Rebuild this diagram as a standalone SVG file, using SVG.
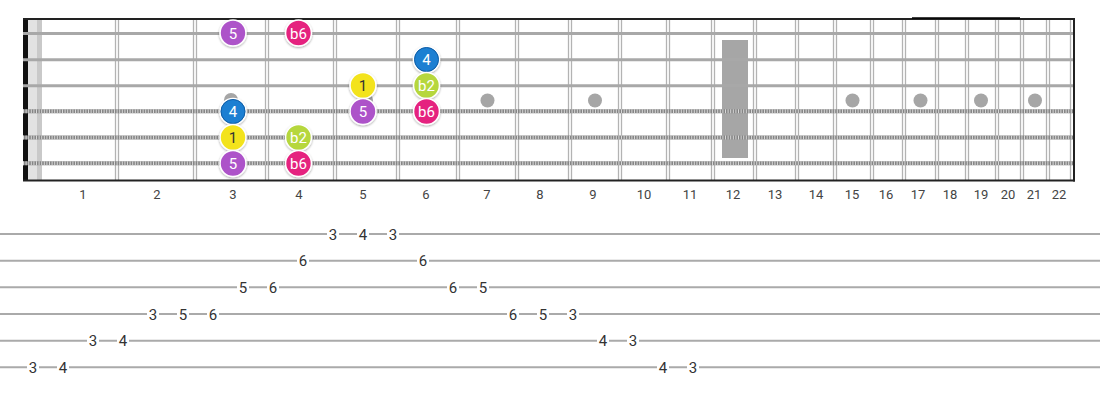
<svg xmlns="http://www.w3.org/2000/svg" width="1100" height="400" viewBox="0 0 1100 400">
<defs>
<style>
.fw{stroke:#b3b3b3;stroke-width:1.3}
.plain{stroke:#a8a8a8;stroke-width:3}
.wbase{stroke:#858585;stroke-width:4}
.wtex{stroke:#d8d8d8;stroke-width:4;stroke-dasharray:1 1.6}
.inlay{fill:#a6a6a6}
.fnum{font-family:Roboto,"Liberation Sans",sans-serif;font-size:13px;fill:#444;text-anchor:middle}
.tabl{stroke:#aaaaaa;stroke-width:2}
.tn{font-family:Roboto,"Liberation Sans",sans-serif;font-size:15px;fill:#333;text-anchor:middle}
.tbg{fill:#fff}
.note circle{stroke:#fff;stroke-width:1.6;filter:url(#sh)}
.note text{font-family:Roboto,"Liberation Sans",sans-serif;font-size:15px;text-anchor:middle;fill:#fff}
.p5 circle{fill:#ad52c9}
.b6 circle{fill:#e5227f}
.r1 circle{fill:#f3e31e}
.r1 text{fill:#333}
.b2 circle{fill:#b6d73d}
.f4 circle{fill:#1d7fd2}
</style>
<filter id="sh" x="-30%" y="-30%" width="160%" height="170%">
<feDropShadow dx="0" dy="1" stdDeviation="1" flood-color="#000" flood-opacity="0.35"/>
</filter>
</defs>
<rect width="1100" height="400" fill="#fff"/>
<g id="fretboard">
<rect x="28" y="19" width="10" height="162" fill="#e2e2e2"/>
<rect x="37" y="19" width="5" height="162" fill="#c9c9c9"/>
<rect x="23" y="19" width="5" height="162" fill="#111"/>
<g id="frets">
<line class="fw" x1="115.5" y1="19" x2="115.5" y2="181"/><line class="fw" x1="118.5" y1="19" x2="118.5" y2="181"/>
<line class="fw" x1="193.5" y1="19" x2="193.5" y2="181"/><line class="fw" x1="196.5" y1="19" x2="196.5" y2="181"/>
<line class="fw" x1="265.5" y1="19" x2="265.5" y2="181"/><line class="fw" x1="268.5" y1="19" x2="268.5" y2="181"/>
<line class="fw" x1="333.5" y1="19" x2="333.5" y2="181"/><line class="fw" x1="336.5" y1="19" x2="336.5" y2="181"/>
<line class="fw" x1="396.5" y1="19" x2="396.5" y2="181"/><line class="fw" x1="399.5" y1="19" x2="399.5" y2="181"/>
<line class="fw" x1="456.5" y1="19" x2="456.5" y2="181"/><line class="fw" x1="459.5" y1="19" x2="459.5" y2="181"/>
<line class="fw" x1="515.5" y1="19" x2="515.5" y2="181"/><line class="fw" x1="518.5" y1="19" x2="518.5" y2="181"/>
<line class="fw" x1="568.5" y1="19" x2="568.5" y2="181"/><line class="fw" x1="571.5" y1="19" x2="571.5" y2="181"/>
<line class="fw" x1="618.5" y1="19" x2="618.5" y2="181"/><line class="fw" x1="621.5" y1="19" x2="621.5" y2="181"/>
<line class="fw" x1="666.5" y1="19" x2="666.5" y2="181"/><line class="fw" x1="669.5" y1="19" x2="669.5" y2="181"/>
<line class="fw" x1="711.5" y1="19" x2="711.5" y2="181"/><line class="fw" x1="714.5" y1="19" x2="714.5" y2="181"/>
<line class="fw" x1="753.5" y1="19" x2="753.5" y2="181"/><line class="fw" x1="756.5" y1="19" x2="756.5" y2="181"/>
<line class="fw" x1="795.5" y1="19" x2="795.5" y2="181"/><line class="fw" x1="798.5" y1="19" x2="798.5" y2="181"/>
<line class="fw" x1="833.5" y1="19" x2="833.5" y2="181"/><line class="fw" x1="836.5" y1="19" x2="836.5" y2="181"/>
<line class="fw" x1="870.5" y1="19" x2="870.5" y2="181"/><line class="fw" x1="873.5" y1="19" x2="873.5" y2="181"/>
<line class="fw" x1="902.5" y1="19" x2="902.5" y2="181"/><line class="fw" x1="905.5" y1="19" x2="905.5" y2="181"/>
<line class="fw" x1="935.5" y1="19" x2="935.5" y2="181"/><line class="fw" x1="938.5" y1="19" x2="938.5" y2="181"/>
<line class="fw" x1="965.5" y1="19" x2="965.5" y2="181"/><line class="fw" x1="968.5" y1="19" x2="968.5" y2="181"/>
<line class="fw" x1="995.5" y1="19" x2="995.5" y2="181"/><line class="fw" x1="998.5" y1="19" x2="998.5" y2="181"/>
<line class="fw" x1="1020.5" y1="19" x2="1020.5" y2="181"/><line class="fw" x1="1023.5" y1="19" x2="1023.5" y2="181"/>
<line class="fw" x1="1046.5" y1="19" x2="1046.5" y2="181"/><line class="fw" x1="1049.5" y1="19" x2="1049.5" y2="181"/>
<line class="fw" x1="1070.5" y1="19" x2="1070.5" y2="181"/>
</g>
<g id="inlays">
<rect x="722" y="40" width="26" height="118" fill="#a6a6a6"/>
<circle class="inlay" cx="231" cy="100" r="7"/>
<circle class="inlay" cx="366" cy="100" r="7"/>
<circle class="inlay" cx="487.5" cy="100.5" r="7"/>
<circle class="inlay" cx="595" cy="100.5" r="7"/>
<circle class="inlay" cx="852.5" cy="100.5" r="7"/>
<circle class="inlay" cx="920.5" cy="100.5" r="7"/>
<circle class="inlay" cx="981" cy="100.5" r="7"/>
<circle class="inlay" cx="1035" cy="100.5" r="7"/>
</g>
<g id="strings">
<line class="plain" x1="23" y1="33.5" x2="1075" y2="33.5"/>
<line class="plain" x1="23" y1="59.8" x2="1075" y2="59.8"/>
<line class="plain" x1="23" y1="85.8" x2="1075" y2="85.8"/>
<line class="wbase" x1="23" y1="111.3" x2="1075" y2="111.3"/>
<line class="wtex" x1="23" y1="111.3" x2="1075" y2="111.3"/>
<line class="wbase" x1="23" y1="137.5" x2="1075" y2="137.5"/>
<line class="wtex" x1="23" y1="137.5" x2="1075" y2="137.5"/>
<line class="wbase" x1="23" y1="163.3" x2="1075" y2="163.3"/>
<line class="wtex" x1="23" y1="163.3" x2="1075" y2="163.3"/>
</g>
<g id="border" stroke="#222" fill="none">
<line x1="23" y1="19" x2="1075" y2="19" stroke-width="2"/>
<line x1="912" y1="18" x2="1020" y2="18" stroke-width="1.5" stroke="#000"/>
<line x1="23" y1="180.5" x2="1075" y2="180.5" stroke-width="2"/>
<line x1="1074" y1="18" x2="1074" y2="181.5" stroke-width="2"/>
</g>
<g id="fret-numbers">
<text class="fnum" x="83" y="198.5">1</text>
<text class="fnum" x="157" y="198.5">2</text>
<text class="fnum" x="233" y="198.5">3</text>
<text class="fnum" x="299" y="198.5">4</text>
<text class="fnum" x="363" y="198.5">5</text>
<text class="fnum" x="426" y="198.5">6</text>
<text class="fnum" x="487" y="198.5">7</text>
<text class="fnum" x="540" y="198.5">8</text>
<text class="fnum" x="593" y="198.5">9</text>
<text class="fnum" x="644" y="198.5">10</text>
<text class="fnum" x="690" y="198.5">11</text>
<text class="fnum" x="733" y="198.5">12</text>
<text class="fnum" x="775" y="198.5">13</text>
<text class="fnum" x="816" y="198.5">14</text>
<text class="fnum" x="852" y="198.5">15</text>
<text class="fnum" x="886" y="198.5">16</text>
<text class="fnum" x="918" y="198.5">17</text>
<text class="fnum" x="950" y="198.5">18</text>
<text class="fnum" x="981" y="198.5">19</text>
<text class="fnum" x="1008" y="198.5">20</text>
<text class="fnum" x="1034" y="198.5">21</text>
<text class="fnum" x="1059" y="198.5">22</text>
</g>
</g>
<g id="n-s1-3" class="note p5"><circle cx="233" cy="33" r="13"/><text x="233" y="38.5">5</text></g>
<g id="n-s1-4" class="note b6"><circle cx="298.5" cy="33" r="13"/><text x="298.5" y="38.5">b6</text></g>
<g id="n-s2-6" class="note f4"><circle cx="426.5" cy="59.5" r="13"/><circle cx="426.5" cy="59.5" r="12" style="fill:none;stroke:#0f5da6;stroke-width:1;filter:none"/><text x="426.5" y="65">4</text></g>
<g id="n-s3-5" class="note r1"><circle cx="363" cy="85.5" r="13"/><text x="363" y="91">1</text></g>
<g id="n-s3-6" class="note b2"><circle cx="426.5" cy="85.5" r="13"/><text x="426.5" y="91">b2</text></g>
<g id="n-s4-3" class="note f4"><circle cx="233" cy="111.5" r="13"/><circle cx="233" cy="111.5" r="12" style="fill:none;stroke:#0f5da6;stroke-width:1;filter:none"/><text x="233" y="117">4</text></g>
<g id="n-s4-5" class="note p5"><circle cx="363" cy="111.5" r="13"/><text x="363" y="117">5</text></g>
<g id="n-s4-6" class="note b6"><circle cx="426.5" cy="111.5" r="13"/><text x="426.5" y="117">b6</text></g>
<g id="n-s5-3" class="note r1"><circle cx="233" cy="137.5" r="13"/><text x="233" y="143">1</text></g>
<g id="n-s5-4" class="note b2"><circle cx="298.5" cy="137.5" r="13"/><text x="298.5" y="143">b2</text></g>
<g id="n-s6-3" class="note p5"><circle cx="233" cy="163.5" r="13"/><text x="233" y="169">5</text></g>
<g id="n-s6-4" class="note b6"><circle cx="298.5" cy="163.5" r="13"/><text x="298.5" y="169">b6</text></g>
<g id="tab">
<g id="tab-lines">
<line class="tabl" x1="0" y1="234" x2="1100" y2="234"/>
<line class="tabl" x1="0" y1="260.7" x2="1100" y2="260.7"/>
<line class="tabl" x1="0" y1="287.3" x2="1100" y2="287.3"/>
<line class="tabl" x1="0" y1="314" x2="1100" y2="314"/>
<line class="tabl" x1="0" y1="340.7" x2="1100" y2="340.7"/>
<line class="tabl" x1="0" y1="367.3" x2="1100" y2="367.3"/>
</g>
<g id="tab-bg">
<rect class="tbg" x="327" y="226" width="12" height="16"/><rect class="tbg" x="357" y="226" width="12" height="16"/><rect class="tbg" x="387" y="226" width="12" height="16"/>
<rect class="tbg" x="297" y="253" width="12" height="16"/><rect class="tbg" x="417" y="253" width="12" height="16"/>
<rect class="tbg" x="237" y="279" width="12" height="16"/><rect class="tbg" x="267" y="279" width="12" height="16"/><rect class="tbg" x="447" y="279" width="12" height="16"/><rect class="tbg" x="477" y="279" width="12" height="16"/>
<rect class="tbg" x="147" y="306" width="12" height="16"/><rect class="tbg" x="177" y="306" width="12" height="16"/><rect class="tbg" x="207" y="306" width="12" height="16"/><rect class="tbg" x="507" y="306" width="12" height="16"/><rect class="tbg" x="537" y="306" width="12" height="16"/><rect class="tbg" x="567" y="306" width="12" height="16"/>
<rect class="tbg" x="87" y="333" width="12" height="16"/><rect class="tbg" x="117" y="333" width="12" height="16"/><rect class="tbg" x="597" y="333" width="12" height="16"/><rect class="tbg" x="627" y="333" width="12" height="16"/>
<rect class="tbg" x="27" y="359" width="12" height="16"/><rect class="tbg" x="57" y="359" width="12" height="16"/><rect class="tbg" x="657" y="359" width="12" height="16"/><rect class="tbg" x="687" y="359" width="12" height="16"/>
</g>
<g id="tab-numbers">
<text class="tn" x="333" y="239.5">3</text><text class="tn" x="363" y="239.5">4</text><text class="tn" x="393" y="239.5">3</text>
<text class="tn" x="303" y="266">6</text><text class="tn" x="423" y="266">6</text>
<text class="tn" x="243" y="292.5">5</text><text class="tn" x="273" y="292.5">6</text><text class="tn" x="453" y="292.5">6</text><text class="tn" x="483" y="292.5">5</text>
<text class="tn" x="153" y="319.5">3</text><text class="tn" x="183" y="319.5">5</text><text class="tn" x="213" y="319.5">6</text><text class="tn" x="513" y="319.5">6</text><text class="tn" x="543" y="319.5">5</text><text class="tn" x="573" y="319.5">3</text>
<text class="tn" x="93" y="346">3</text><text class="tn" x="123" y="346">4</text><text class="tn" x="603" y="346">4</text><text class="tn" x="633" y="346">3</text>
<text class="tn" x="33" y="372.5">3</text><text class="tn" x="63" y="372.5">4</text><text class="tn" x="663" y="372.5">4</text><text class="tn" x="693" y="372.5">3</text>
</g>
</g>
</svg>
